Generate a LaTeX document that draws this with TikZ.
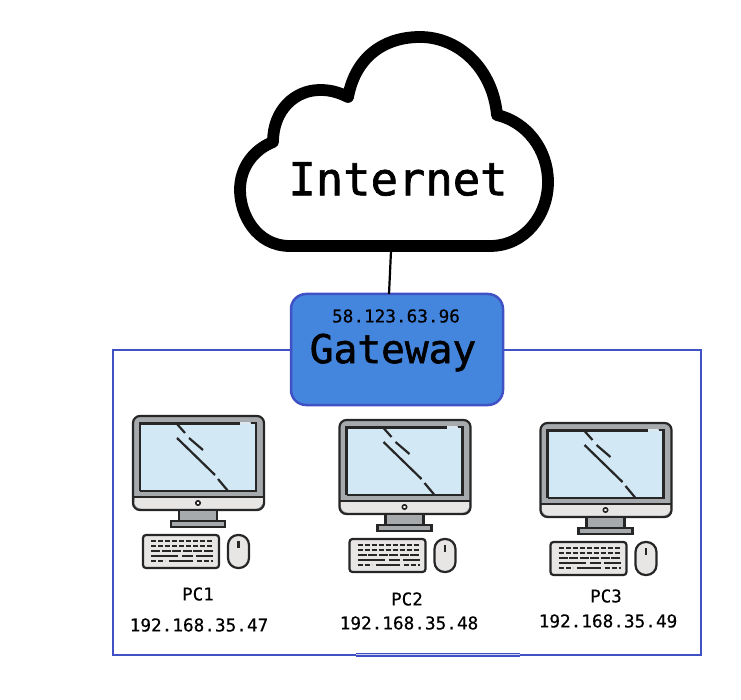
\documentclass[tikz,border=0pt]{standalone}
\usepackage{fontspec}
\setmonofont{DejaVu Sans Mono}
\newfontfamily\heavymono[FakeBold=1.5]{DejaVu Sans Mono}
\newfontfamily\midmono[FakeBold=0.5]{DejaVu Sans Mono}
\definecolor{gwblue}{HTML}{4485DD}
\definecolor{gwborder}{HTML}{3F51C4}
\definecolor{pcgray}{HTML}{A6AAAC}
\definecolor{pclight}{HTML}{E8E5E5}
\definecolor{pcscreen}{HTML}{D2E9F5}
\usetikzlibrary{positioning}
\tikzset{
  pc/.pic={
    % monitor
    \draw[pcline, fill=pcgray, rounded corners=7pt] (0,0) rectangle (131,94);
    \fill[pclight, rounded corners=7pt] (1.5,81) rectangle (129.5,92.5);
    \fill[pclight] (1.5,81) rectangle (129.5,86);
    \draw[pcline] (0,81) -- (131,81);
    \fill[pcscreen] (7,7) rectangle (123,75);
    \draw[pcline] (7,75) -- (123,75) -- (123,7) -- (118,7);
    \draw[pcline] (7,75) -- (7,7);
    \draw[black!85, line width=3pt] (5.5,7) -- (107,7);
    \fill[pclight!50!pcscreen] (107,5.5) rectangle (117,8);
    \draw[pcline] (44,8) -- (52,17);
    \draw[pcline] (56,22) -- (70,34);
    \draw[pcline] (44,22) -- (82,59);
    \draw[pcline] (85,63) -- (95,75);
    \draw[black!85, line width=1.6pt, fill=white] (65,87) circle (2.2);
    % stand
    \draw[pcline, fill=pcgray] (46,94) rectangle (84,105);
    \draw[pcline, fill=pcgray] (38,105) rectangle (92,111);
    % keyboard
    \draw[pcline, fill=pclight, rounded corners=3pt] (10,119) rectangle (86,152);
    \foreach \rowy in {125,130}
      \draw[keyrow, dash pattern=on 5pt off 2pt] (18,\rowy) -- (80,\rowy);
    \draw[keyrow, dash pattern=on 9pt off 1.5pt] (18,135) -- (80,135);
    \draw[keyrow] (18,140) -- (45,140);
    \draw[keyrow] (49,140) -- (60,140);
    \draw[keyrow] (63,140) -- (80,140);
    \draw[keyrow, dash pattern=on 5pt off 2pt] (18,145) -- (32,145);
    \draw[keyrow] (36,145) -- (60,145);
    \draw[keyrow, dash pattern=on 5pt off 2pt] (64,145) -- (80,145);
    % mouse
    \draw[pcline, fill=pclight, rounded corners=10pt] (95,119) rectangle (116,152);
    \draw[pcline] (105.5,125) -- (105.5,132);
  }
}
\begin{document}
\begin{tikzpicture}[
  x=1pt, y=-1pt,
  pcline/.style={draw=black!85, line width=2.2pt},
  keyrow/.style={draw=black!85, line width=2.6pt},
  gw/.style={draw=gwborder, fill=gwblue, line width=2.5pt, rounded corners=15pt,
             minimum width=212pt, minimum height=111pt, inner sep=0pt},
  lan/.style={draw=gwborder, line width=2.8pt},
  cloudline/.style={draw=black, line width=11.8pt, line join=round, fill=white},
  link/.style={draw=black, line width=2.2pt},
  bigtxt/.style={font=\heavymono\fontsize{45.5}{45.5}\selectfont},
  gwtxt/.style={font=\heavymono\fontsize{39.5}{39.5}\selectfont},
  iptxt/.style={font=\midmono\fontsize{17.7}{17.7}\selectfont},
  pctxt/.style={font=\midmono\fontsize{17.5}{17.5}\selectfont}
]
  \useasboundingbox (0,0) rectangle (741,700);

  % cloud
  \draw[cloudline] (290,246) -- (490,246)
    .. controls (525,246) and (548,215) .. (548,182)
    .. controls (548,150) and (527,122) .. (497,115)
    .. controls (493,70) and (460,37) .. (420,37)
    .. controls (386,37) and (356,55) .. (348,97)
    .. controls (338,92) and (330,90) .. (320,90)
    .. controls (295,90) and (273,110) .. (273,142)
    .. controls (253,150) and (240,168) .. (240,190)
    .. controls (240,214) and (256,246) .. (290,246) -- cycle;
  \node[bigtxt] (internet) at (398,179) {Internet};

  % local network
  \node[lan, minimum width=588pt, minimum height=305pt, inner sep=0pt] (lanbox) at (407,502.5) {};
  \draw[gwborder, line width=4pt] (356,654.5) -- (520,654.5);
  \draw[white!75!gwborder, line width=1pt] (356,654) -- (520,654);

  \node[gw] (gateway) at (397,349.5) {};
  \node[iptxt] (gwip) at (396,316) {58.123.63.96};
  \node[gwtxt] (gwname) at (393,352.5) {Gateway};

  \coordinate (cloudout) at (391,251);
  \coordinate (gwin) at (389,294);
  \draw[link] (cloudout) -- (gwin);

  % computers
  \pic (pc1) at (133,416) {pc};
  \pic (pc2) at (339.5,420) {pc};
  \pic (pc3) at (540.5,423) {pc};

  \node[pctxt] (pc1name) at (198,594) {PC1};
  \node[iptxt] (pc1ip)   at (199,625) {192.168.35.47};
  \node[pctxt] (pc2name) at (407,599) {PC2};
  \node[iptxt] (pc2ip)   at (409,623) {192.168.35.48};
  \node[pctxt] (pc3name) at (606,596) {PC3};
  \node[iptxt] (pc3ip)   at (608,621) {192.168.35.49};
\end{tikzpicture}
\end{document}
